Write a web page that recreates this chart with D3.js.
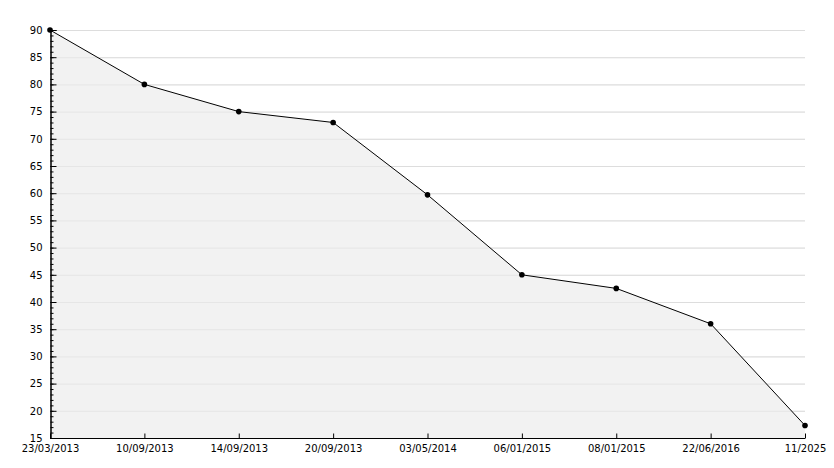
<!DOCTYPE html><html><head><script src="https://d3js.org/d3.v7.min.js"></script>
<style>body{margin:0;background:#fff}text{font-family:"DejaVu Sans",sans-serif;font-size:10px;fill:#000}</style></head><body>
<svg width="834" height="468"></svg>
<script>
const categories=["23/03/2013","10/09/2013","14/09/2013","20/09/2013","03/05/2014","06/01/2015","08/01/2015","22/06/2016","11/2025"];
const values=[90,80,75,73,59.7,45,42.5,36,17.3];
const yTicks=[15,20,25,30,35,40,45,50,55,60,65,70,75,80,85,90];
const svg=d3.select("svg");
const L=50,R=805,T=30,B=438;
const x=d3.scalePoint().domain(categories).range([L,R]);
const y=d3.scaleLinear().domain([15,90]).range([B,T]);
const g=svg.append("g");
g.selectAll(".grid").data(yTicks.slice(1)).join("line").attr("x1",L).attr("x2",R).attr("y1",d=>y(d)+.5).attr("y2",d=>y(d)+.5).attr("stroke","#ddd");
const area=d3.area().x((d,i)=>x(categories[i])).y0(B).y1(d=>y(d));
g.append("path").datum(values).attr("d",area).attr("fill","#f2f2f2");
g.selectAll(".grid2").data(yTicks.slice(1)).join("line").attr("x1",L).attr("x2",R).attr("y1",d=>y(d)+.5).attr("y2",d=>y(d)+.5).attr("stroke","#ddd").attr("stroke-opacity",0.6);
const line=d3.line().x((d,i)=>x(categories[i])).y(d=>y(d));
g.append("path").datum(values).attr("d",line).attr("fill","none").attr("stroke","#000").attr("stroke-width",1);
g.selectAll(".pt").data(values).join("circle").attr("cx",(d,i)=>x(categories[i])).attr("cy",d=>y(d)).attr("r",2.8).attr("fill","#000");
const ya=svg.append("g").attr("transform",`translate(${L+.5},0)`).call(d3.axisLeft(y).tickValues(d3.range(15,91,1)).tickSize(-3).tickFormat(""));
ya.selectAll("line").attr("stroke","#000");
const ya2=svg.append("g").attr("transform",`translate(${L+.5},0)`).call(d3.axisLeft(y).tickValues(yTicks).tickSize(-6).tickPadding(12).tickFormat(d3.format("d")));
ya2.select(".domain").attr("stroke","#000");ya2.selectAll("line").attr("stroke","#000");
ya2.selectAll("text").style("font-size","10px").attr("x",-8);
const xa=svg.append("g").attr("transform",`translate(0,${B+.5})`).call(d3.axisBottom(x).tickSize(-5).tickSizeOuter(0).tickPadding(6));
xa.select(".domain").attr("stroke","#000").attr("d",`M${L},0H${R}`);xa.selectAll("line").attr("stroke","#000");
xa.selectAll("text").style("font-size","10px");
</script></body></html>
